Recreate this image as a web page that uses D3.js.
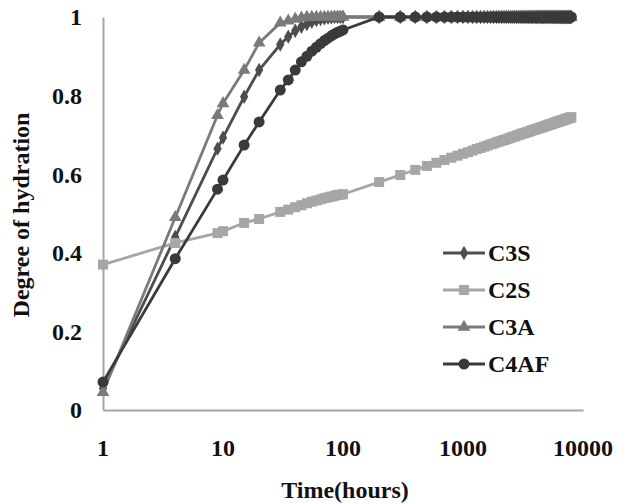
<!DOCTYPE html>
<html>
<head>
<meta charset="utf-8">
<script src="https://cdn.jsdelivr.net/npm/d3@7"></script>
<style>
  body { margin: 0; background: #fff; }
  text { font-family: "Liberation Serif", "Times New Roman", serif; font-weight: bold; fill: #111; }
</style>
</head>
<body>
<div id="chart"></div>
<script>
// time in hours (x axis, log scale)
var hours = [1, 4, 9, 10, 15, 20, 30, 35, 40, 45, 50, 55, 60, 65, 70, 75, 80, 85, 90, 95, 100,
  200, 300, 400, 500, 600, 700, 800, 900, 1000, 1100, 1200, 1300, 1400, 1500, 1600, 1700, 1800, 1900, 2000,
  2100, 2200, 2300, 2400, 2500, 2600, 2700, 2800, 2900, 3000, 3100, 3200, 3300, 3400, 3500, 3600, 3700, 3800, 3900, 4000,
  4100, 4200, 4300, 4400, 4500, 4600, 4700, 4800, 4900, 5000, 5100, 5200, 5300, 5400, 5500, 5600, 5700, 5800, 5900, 6000,
  6100, 6200, 6300, 6400, 6500, 6600, 6700, 6800, 6900, 7000, 7100, 7200, 7300, 7400, 7500, 7600, 7700, 7800, 7900, 8000];

// degree of hydration per phase
var c3s = [0.055, 0.44, 0.665, 0.693, 0.797, 0.865, 0.93, 0.95, 0.965, 0.975, 0.982, 0.988, 0.992, 0.995, 0.997, 0.998, 0.999, 1, 1, 1, 1,
  1, 1, 1, 1, 1, 1, 1, 1, 1, 1, 1, 1, 1, 1, 1, 1, 1, 1, 1,
  1, 1, 1, 1, 1, 1, 1, 1, 1, 1, 1, 1, 1, 1, 1, 1, 1, 1, 1, 1,
  1, 1, 1, 1, 1, 1, 1, 1, 1, 1, 1, 1, 1, 1, 1, 1, 1, 1, 1, 1,
  1, 1, 1, 1, 1, 1, 1, 1, 1, 1, 1, 1, 1, 1, 1, 1, 1, 1, 1, 1];
var c2s = [0.37, 0.425, 0.45, 0.455, 0.476, 0.486, 0.504, 0.51, 0.516, 0.521, 0.526, 0.53, 0.533, 0.536, 0.539, 0.541, 0.543, 0.545, 0.547, 0.548, 0.549,
  0.580, 0.598, 0.611, 0.621, 0.629, 0.636, 0.642, 0.647, 0.652, 0.656, 0.660, 0.664, 0.667, 0.670, 0.673, 0.676, 0.678, 0.681, 0.683,
  0.685, 0.687, 0.689, 0.691, 0.693, 0.695, 0.696, 0.698, 0.700, 0.701, 0.703, 0.704, 0.705, 0.707, 0.708, 0.709, 0.711, 0.712, 0.713, 0.714,
  0.715, 0.716, 0.717, 0.718, 0.719, 0.720, 0.721, 0.722, 0.723, 0.724, 0.725, 0.726, 0.727, 0.727, 0.728, 0.729, 0.730, 0.731, 0.731, 0.732,
  0.733, 0.734, 0.734, 0.735, 0.736, 0.736, 0.737, 0.738, 0.738, 0.739, 0.740, 0.740, 0.741, 0.742, 0.742, 0.743, 0.743, 0.744, 0.744, 0.745];
var c3a = [0.045, 0.49, 0.75, 0.78, 0.865, 0.934, 0.985, 0.99, 0.995, 0.998, 1, 1, 1, 1, 1, 1, 1, 1, 1, 1, 1,
  1, 1, 1, 1, 1, 1, 1, 1, 1, 1, 1, 1, 1, 1, 1, 1, 1, 1, 1,
  1, 1, 1, 1, 1, 1, 1, 1, 1, 1, 1, 1, 1, 1, 1, 1, 1, 1, 1, 1,
  1, 1, 1, 1, 1, 1, 1, 1, 1, 1, 1, 1, 1, 1, 1, 1, 1, 1, 1, 1,
  1, 1, 1, 1, 1, 1, 1, 1, 1, 1, 1, 1, 1, 1, 1, 1, 1, 1, 1, 1];
var c4af = [0.071, 0.385, 0.562, 0.585, 0.674, 0.733, 0.814, 0.84, 0.865, 0.886, 0.9, 0.913, 0.923, 0.932, 0.94, 0.946, 0.952, 0.957, 0.961, 0.964, 0.967,
  1, 1, 1, 1, 1, 1, 1, 1, 1, 1, 1, 1, 1, 1, 1, 1, 1, 1, 1,
  1, 1, 1, 1, 1, 1, 1, 1, 1, 1, 1, 1, 1, 1, 1, 1, 1, 1, 1, 1,
  1, 1, 1, 1, 1, 1, 1, 1, 1, 1, 1, 1, 1, 1, 1, 1, 1, 1, 1, 1,
  1, 1, 1, 1, 1, 1, 1, 1, 1, 1, 1, 1, 1, 1, 1, 1, 1, 1, 1, 1];

var seriesNames = ["C3S", "C2S", "C3A", "C4AF"];
var xTicks = [1, 10, 100, 1000, 10000];
var yTicks = [0, 0.2, 0.4, 0.6, 0.8, 1];

var width = 630, height = 504;
var margin = {top: 17, right: 47, bottom: 94, left: 103};

var series = [
  {name: "C3S",  values: c3s,  color: "#4d4d4d", symbol: d3.symbolDiamond,  size: 60},
  {name: "C2S",  values: c2s,  color: "#a6a6a6", symbol: d3.symbolSquare,   size: 100},
  {name: "C3A",  values: c3a,  color: "#7a7a7a", symbol: d3.symbolTriangle, size: 70},
  {name: "C4AF", values: c4af, color: "#3a3a3a", symbol: d3.symbolCircle,   size: 95}
];

var svg = d3.select("#chart")
  .append("svg")
  .attr("width", width)
  .attr("height", height);

var xScale = d3.scaleLog()
  .domain([1, 10000])
  .range([margin.left, width - margin.right]);
var yScale = d3.scaleLinear()
  .domain([0, 1])
  .range([height - margin.bottom, margin.top]);

// axes (plain gray lines, no tick marks)
svg.append("g")
  .attr("transform", "translate(0," + yScale(0) + ")")
  .call(d3.axisBottom(xScale).tickValues(xTicks).tickSize(0).tickFormat(""))
  .call(g => g.select(".domain").attr("stroke", "#a6a6a6").attr("stroke-width", 2));
svg.append("g")
  .attr("transform", "translate(" + xScale(1) + ",0)")
  .call(d3.axisLeft(yScale).tickValues(yTicks).tickSize(0).tickFormat(""))
  .call(g => g.select(".domain").attr("stroke", "#a6a6a6").attr("stroke-width", 2));

// tick labels
svg.append("g").selectAll("text")
  .data(xTicks)
  .join("text")
  .attr("x", d => xScale(d))
  .attr("y", 456)
  .attr("text-anchor", "middle")
  .attr("font-size", 24)
  .text(d => d);
svg.append("g").selectAll("text")
  .data(yTicks)
  .join("text")
  .attr("x", 82)
  .attr("y", d => yScale(d))
  .attr("dy", "0.35em")
  .attr("text-anchor", "end")
  .attr("font-size", 24)
  .text(d => d);

// axis titles
svg.append("text")
  .attr("x", 345)
  .attr("y", 498)
  .attr("text-anchor", "middle")
  .attr("font-size", 24)
  .text("Time(hours)");
svg.append("text")
  .attr("transform", "translate(29,215) rotate(-90)")
  .attr("text-anchor", "middle")
  .attr("font-size", 24)
  .text("Degree of hydration");

// lines + markers
var line = d3.line()
  .x((d, i) => xScale(hours[i]))
  .y(d => yScale(d));

series.forEach(function(s) {
  var g = svg.append("g");
  g.append("path")
    .datum(s.values)
    .attr("d", line)
    .attr("fill", "none")
    .attr("stroke", s.color)
    .attr("stroke-width", 2.8);
  g.selectAll("path.mk")
    .data(s.values)
    .join("path")
    .attr("class", "mk")
    .attr("transform", (d, i) => "translate(" + xScale(hours[i]) + "," + yScale(d) + ")")
    .attr("d", d3.symbol().type(s.symbol).size(s.size))
    .attr("fill", s.color);
});

// legend
var legend = svg.append("g");
series.forEach(function(s, i) {
  var y = 253 + i * 37;
  legend.append("line")
    .attr("x1", 443).attr("x2", 485)
    .attr("y1", y).attr("y2", y)
    .attr("stroke", s.color)
    .attr("stroke-width", 2.8);
  legend.append("path")
    .attr("transform", "translate(464," + y + ")")
    .attr("d", d3.symbol().type(s.symbol).size(s.size))
    .attr("fill", s.color);
  legend.append("text")
    .attr("x", 488)
    .attr("y", y)
    .attr("dy", "0.35em")
    .attr("font-size", 24)
    .text(s.name);
});
</script>
</body>
</html>
